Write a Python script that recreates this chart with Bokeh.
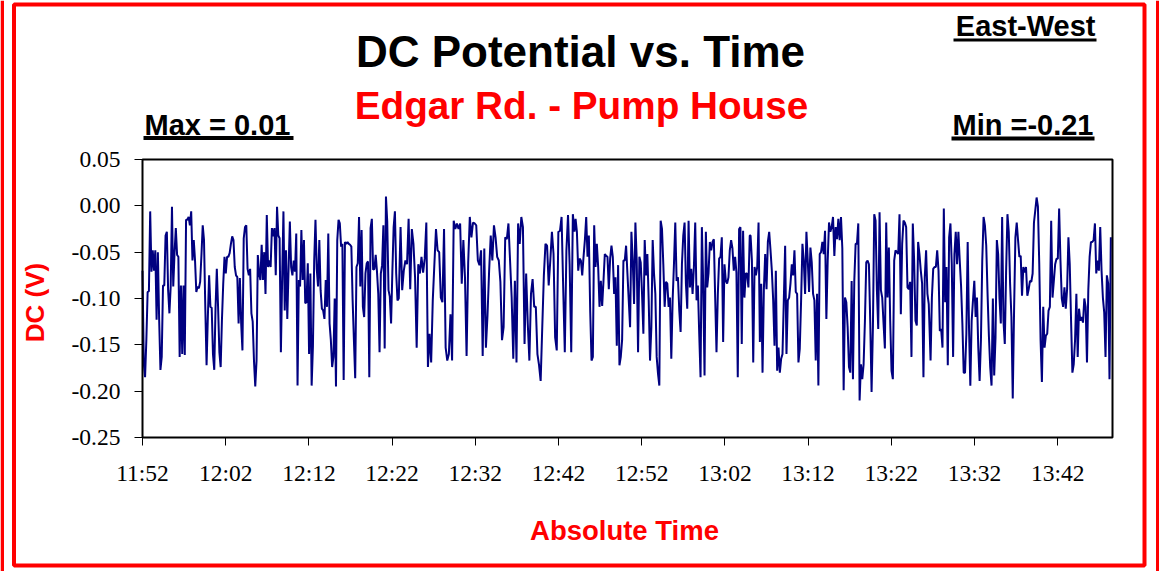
import numpy as np
import pandas as pd
from bokeh.plotting import figure
from bokeh.models import (Label, BoxAnnotation, FixedTicker, DatetimeTickFormatter,
                          NumeralTickFormatter, Range1d, ColumnDataSource)
from bokeh.embed import file_html
from bokeh.resources import INLINE

# ---------------- data ----------------
DAY = "2000-01-01 "
x_ticks = ["11:52", "12:02", "12:12", "12:22", "12:32", "12:42",
           "12:52", "13:02", "13:12", "13:22", "13:32", "13:42"]
x_start, x_end = "11:52:00", "13:48:35"
y_min, y_max = -0.25, 0.05
y_ticks = [-0.25, -0.20, -0.15, -0.10, -0.05, 0.00, 0.05]

# start / end time of each run of readings
seg_start = ["11:52:00", "12:23:01", "12:44:03", "13:05:05", "13:26:43"]
seg_end = ["12:22:48", "12:43:55", "13:04:59", "13:26:30", "13:48:23"]

v1 = [-0.070, -0.170, -0.185, -0.145, -0.093, -0.092, -0.006, -0.071, -0.048, -0.070,
      -0.048, -0.123, -0.050, -0.123, -0.177, -0.163, -0.086, -0.086, -0.032, -0.028,
      -0.091, -0.116, -0.087, -0.001, -0.087, -0.051, -0.024, -0.053, -0.055, -0.163,
      -0.086, -0.160, -0.086, -0.161, -0.015, -0.015, -0.012, -0.021, -0.006, -0.059,
      -0.037, -0.059, -0.093, -0.087, -0.089, -0.082, -0.053, -0.021, -0.037, -0.109,
      -0.172, -0.120, -0.075, -0.109, -0.110, -0.160, -0.177, -0.110, -0.068, -0.110,
      -0.158, -0.174, -0.123, -0.084, -0.055, -0.073, -0.055, -0.055, -0.051, -0.041,
      -0.033, -0.037, -0.066, -0.075, -0.077, -0.127, -0.078, -0.127, -0.156, -0.035,
      -0.023, -0.021, -0.068, -0.075, -0.068, -0.116, -0.125, -0.167, -0.195, -0.167,
      -0.053, -0.073, -0.080, -0.042, -0.080, -0.050, -0.095, -0.010, -0.066, -0.059,
      -0.066, -0.024, -0.033, -0.024, -0.075, -0.001, -0.032, -0.035, -0.158, -0.078,
      -0.006, -0.113, -0.048, -0.122, -0.068, -0.017, -0.066, -0.075, -0.059, -0.071,
      -0.030, -0.194, -0.080, -0.087, -0.026, -0.080, -0.037, -0.105, -0.104, -0.062,
      -0.160, -0.073, -0.194, -0.152, -0.059, -0.015, -0.068, -0.087, -0.037, -0.091,
      -0.111, -0.113, -0.122, -0.080, -0.109, -0.030, -0.127, -0.145, -0.174, -0.163,
      -0.100, -0.195, -0.037, -0.015, -0.019, -0.044, -0.041, -0.188, -0.039, -0.041,
      -0.039, -0.041, -0.042, -0.044, -0.102, -0.145, -0.186, -0.066, -0.062, -0.012,
      -0.087, -0.026, -0.109, -0.120, -0.073, -0.062, -0.060, -0.185, -0.024, -0.014,
      -0.069, -0.068, -0.053, -0.071, -0.095, -0.158, -0.073, -0.064, -0.021, -0.154,
      0.010, -0.017, -0.091, -0.098, -0.127, -0.071, -0.023, -0.006, -0.073, -0.102,
      -0.100]

v2 = [-0.023, -0.091, -0.070, -0.059, -0.063, -0.014, -0.090, -0.025, -0.041, -0.077,
      -0.153, -0.063, -0.073, -0.055, -0.072, -0.057, -0.018, -0.174, -0.138, -0.169,
      -0.102, -0.063, -0.025, -0.048, -0.050, -0.099, -0.104, -0.025, -0.153, -0.167,
      -0.160, -0.117, -0.167, -0.016, -0.025, -0.019, -0.025, -0.019, -0.084, -0.037,
      -0.077, -0.162, -0.061, -0.012, -0.034, -0.018, -0.019, -0.021, -0.059, -0.064,
      -0.048, -0.162, -0.046, -0.153, -0.118, -0.070, -0.032, -0.059, -0.021, -0.034,
      -0.055, -0.059, -0.082, -0.145, -0.131, -0.034, -0.036, -0.019, -0.059, -0.099,
      -0.165, -0.081, -0.169, -0.019, -0.041, -0.012, -0.023, -0.149, -0.073, -0.127,
      -0.167, -0.095, -0.079, -0.109, -0.109, -0.160, -0.172, -0.189, -0.131, -0.075,
      -0.041, -0.043, -0.086, -0.059, -0.028, -0.052, -0.142, -0.156, -0.028, -0.027,
      -0.012, -0.088, -0.158, -0.048, -0.010, -0.063, -0.158, -0.009, -0.028]

v3 = [-0.014, -0.028, -0.070, -0.057, -0.059, -0.075, -0.055, -0.037, -0.012, -0.055,
      -0.032, -0.113, -0.167, -0.163, -0.021, -0.066, -0.041, -0.066, -0.109, -0.081,
      -0.108, -0.081, -0.052, -0.054, -0.055, -0.090, -0.057, -0.043, -0.055, -0.095,
      -0.077, -0.151, -0.064, -0.172, -0.163, -0.145, -0.059, -0.059, -0.043, -0.073,
      -0.102, -0.131, -0.028, -0.059, -0.106, -0.018, -0.059, -0.158, -0.055, -0.061,
      -0.095, -0.138, -0.037, -0.075, -0.052, -0.102, -0.167, -0.131, -0.037, -0.073,
      -0.095, -0.163, -0.181, -0.194, -0.016, -0.025, -0.063, -0.109, -0.082, -0.084,
      -0.109, -0.099, -0.165, -0.102, -0.063, -0.018, -0.081, -0.077, -0.113, -0.136,
      -0.063, -0.032, -0.018, -0.084, -0.111, -0.016, -0.088, -0.068, -0.095, -0.066,
      -0.018, -0.102, -0.086, -0.138, -0.185, -0.023, -0.086, -0.183, -0.028, -0.088,
      -0.073, -0.039, -0.048, -0.039, -0.036, -0.099, -0.158, -0.095, -0.057, -0.055,
      -0.034, -0.147, -0.063, -0.081, -0.084, -0.077, -0.048, -0.037, -0.046, -0.070,
      -0.055, -0.072, -0.185, -0.025, -0.023, -0.149, -0.027, -0.099, -0.073, -0.073,
      -0.088, -0.032]

v4 = [-0.032, -0.059, -0.169, -0.066, -0.075, -0.066, -0.018, -0.147, -0.084, -0.180,
      -0.090, -0.052, -0.090, -0.039, -0.028, -0.048, -0.070, -0.102, -0.151, -0.070,
      -0.178, -0.153, -0.180, -0.165, -0.160, -0.102, -0.043, -0.160, -0.102, -0.099,
      -0.084, -0.063, -0.075, -0.048, -0.093, -0.095, -0.169, -0.154, -0.102, -0.041,
      -0.059, -0.095, -0.028, -0.059, -0.093, -0.045, -0.061, -0.095, -0.102, -0.167,
      -0.095, -0.194, -0.052, -0.050, -0.039, -0.052, -0.027, -0.122, -0.059, -0.018,
      -0.028, -0.023, -0.012, -0.054, -0.023, -0.036, -0.014, -0.037, -0.012, -0.046,
      -0.199, -0.099, -0.104, -0.131, -0.174, -0.180, -0.081, -0.187, -0.081, -0.041,
      -0.041, -0.019, -0.210, -0.171, -0.187, -0.171, -0.124, -0.061, -0.059, -0.063,
      -0.126, -0.201, -0.131, -0.009, -0.016, -0.091, -0.133, -0.007, -0.091, -0.099,
      -0.127, -0.154, -0.018, -0.099, -0.045, -0.124, -0.178, -0.187, -0.059, -0.048,
      -0.050, -0.052, -0.009, -0.117, -0.041, -0.016, -0.018, -0.023, -0.088, -0.090,
      -0.082, -0.163, -0.019, -0.059, -0.124, -0.129, -0.039, -0.052, -0.070, -0.084,
      -0.185, -0.077, -0.048, -0.095, -0.106]

v5 = [-0.167, -0.099, -0.068, -0.066, -0.066, -0.048, -0.070, -0.135, -0.133, -0.153,
      -0.003, -0.104, -0.066, -0.172, -0.034, -0.019, -0.063, -0.163, -0.052, -0.028,
      -0.063, -0.028, -0.059, -0.086, -0.127, -0.180, -0.180, -0.138, -0.039, -0.131,
      -0.194, -0.124, -0.102, -0.081, -0.120, -0.099, -0.153, -0.189, -0.145, -0.059,
      -0.012, -0.021, -0.043, -0.095, -0.140, -0.174, -0.194, -0.100, -0.183, -0.142,
      -0.037, -0.052, -0.100, -0.127, -0.012, -0.124, -0.149, -0.070, -0.009, -0.028,
      -0.084, -0.120, -0.208, -0.113, -0.034, -0.018, -0.037, -0.055, -0.054, -0.097,
      -0.066, -0.072, -0.066, -0.097, -0.090, -0.081, -0.082, -0.073, -0.018, -0.005,
      0.009, -0.001, -0.063, -0.145, -0.190, -0.109, -0.153, -0.140, -0.138, -0.113,
      -0.109, -0.016, -0.099, -0.081, -0.063, -0.057, -0.057, -0.003, -0.059, -0.100,
      -0.109, -0.088, -0.111, -0.090, -0.034, -0.063, -0.124, -0.180, -0.171, -0.145,
      -0.095, -0.163, -0.111, -0.124, -0.120, -0.126, -0.100, -0.109, -0.169, -0.091,
      -0.055, -0.039, -0.039, -0.037, -0.019, -0.073, -0.059, -0.070, -0.023, -0.070,
      -0.099, -0.115, -0.163, -0.075, -0.084, -0.187, -0.034]

segments = [v1, v2, v3, v4, v5]


def ms(hms):
    return pd.Timestamp(DAY + hms).value // 10**6


times, volts = [], []
for s0, s1, vals in zip(seg_start, seg_end, segments):
    times.extend(np.linspace(ms(s0), ms(s1), len(vals)))
    volts.extend(vals)

src = ColumnDataSource(dict(t=times, v=volts))

# ---------------- figure ----------------
W, H = 1159, 571
FL, FR, FT, FB = 142, 1112, 159, 437   # inner plot box, canvas px

t0, t1 = ms(x_start), ms(x_end)
px_t = (t1 - t0) / (FR - FL)
px_v = (y_max - y_min) / (FB - FT)

p = figure(width=W, height=H, output_backend="svg", toolbar_location=None,
           x_axis_type="datetime",
           x_range=Range1d(t0 - FL * px_t, t1 + (W - FR) * px_t),
           y_range=Range1d(y_min - (H - FB) * px_v, y_max + FT * px_v),
           min_border=0)
p.title.visible = False
p.xgrid.visible = False
p.ygrid.visible = False
p.background_fill_color = "white"
p.border_fill_color = "white"
p.outline_line_color = None

p.line("t", "v", source=src, line_color="#000080", line_width=2)

SERIF = "Liberation Serif"
SANS = "Liberation Sans"

p.xaxis.fixed_location = y_min
p.yaxis.fixed_location = t0
p.xaxis.ticker = FixedTicker(ticks=[ms(t + ":00") for t in x_ticks])
p.xaxis.formatter = DatetimeTickFormatter(
    seconds="%H:%M", minsec="%H:%M", minutes="%H:%M", hourmin="%H:%M", hours="%H:%M")
p.yaxis.ticker = FixedTicker(ticks=y_ticks)
p.yaxis.formatter = NumeralTickFormatter(format="0.00")

for ax in (p.xaxis, p.yaxis):
    ax.axis_line_color = None
    ax.major_tick_out = 8
    ax.major_tick_in = 0
    ax.major_tick_line_color = "black"
    ax.major_tick_line_width = 1
    ax.minor_tick_line_color = None
    ax.major_label_text_font = SERIF
    ax.major_label_text_color = "black"
    ax.major_label_text_font_size = "23.5px"
p.xaxis.major_label_standoff = 14
p.yaxis.major_label_standoff = 14

# black box round the plotting area
p.add_layout(BoxAnnotation(left=t0, right=t1, bottom=y_min, top=y_max,
                           fill_color=None, line_color="black", line_alpha=1,
                           line_width=2))


def lab(text, fx, fy, size, color="black", align="left", angle=0):
    p.add_layout(Label(x=fx, y=H - fy, x_units="screen", y_units="screen",
                       text=text, text_font=SANS, text_font_style="bold",
                       text_font_size=size, text_color=color, text_align=align,
                       text_baseline="middle", angle=angle))


def bar(x0, x1, y0, y1, color="black"):
    p.add_layout(BoxAnnotation(left=x0, right=x1, top=H - y0, bottom=H - y1,
                               left_units="screen", right_units="screen",
                               top_units="screen", bottom_units="screen",
                               fill_color=color, fill_alpha=1, line_color=None))


lab("DC Potential vs. Time", 580, 51, "44px", align="center")
lab("Edgar Rd. - Pump House", 581, 105, "38.7px", color="#FF0000", align="center")
lab("Max = 0.01", 144, 124, "29px")
bar(143, 293, 135.5, 139.5)
lab("Min =-0.21", 1093, 124.5, "29px", align="right")
bar(951, 1094, 136, 140)
lab("East-West", 1095, 25, "29px", align="right")
bar(953, 1096, 38, 41)
lab("Absolute Time", 624, 529.5, "27.5px", color="#FF0000", align="center")
lab("DC (V)", 34, 302, "26px", color="#FF0000", align="center", angle=np.pi / 2)

# red frame around the whole chart
p.add_layout(BoxAnnotation(left=13.5, right=1144, top=H - 4, bottom=H - 565,
                           left_units="screen", right_units="screen",
                           top_units="screen", bottom_units="screen",
                           fill_color=None, line_color="#FF0000", line_alpha=1,
                           line_width=4))
bar(0, 3.5, 0, H, color="#FF0000")
bar(1155.5, W, 0, H, color="#FF0000")

open("out.html", "w").write(file_html(p, INLINE))
